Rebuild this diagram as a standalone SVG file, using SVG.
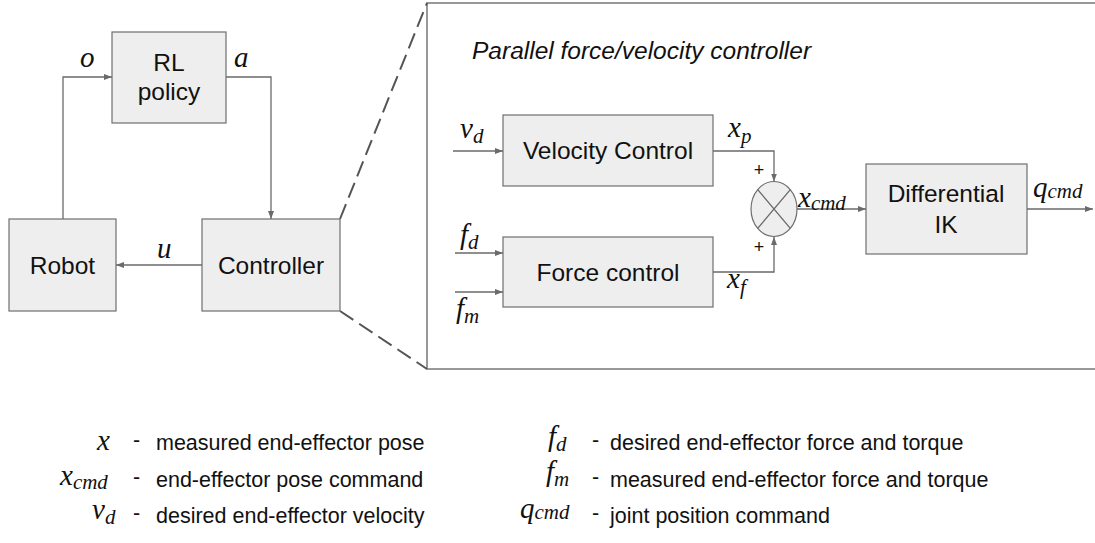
<svg xmlns="http://www.w3.org/2000/svg" width="1095" height="543" viewBox="0 0 1095 543">
  <style>
    .box { fill: #eeeeee; stroke: #6f6f6f; stroke-width: 1.2; }
    .lbl { font-family: "Liberation Sans", Arial, sans-serif; font-size: 24.5px; fill: #111; text-anchor: middle; }
    .title { font-family: "Liberation Sans", Arial, sans-serif; font-size: 24.5px; font-style: italic; fill: #111; }
    .leg { font-family: "Liberation Sans", Arial, sans-serif; font-size: 21.5px; fill: #111; }
    .math { font-family: "Liberation Serif", "Times New Roman", serif; font-size: 29px; font-style: italic; fill: #111; }
    .sub { font-size: 21px; }
    .wire { fill: none; stroke: #6a6a6a; stroke-width: 1.3; }
    .dash { fill: none; stroke: #555; stroke-width: 2; stroke-dasharray: 16 7; }
    .frame { fill: none; stroke: #777; stroke-width: 1.5; }
    .plus { font-family: "Liberation Sans", Arial, sans-serif; font-size: 18px; fill: #111; text-anchor: middle; }
  </style>
  <defs>
    <marker id="arrow" markerUnits="userSpaceOnUse" markerWidth="8" markerHeight="6" refX="8" refY="3" orient="auto">
      <path d="M0,0 L8,3 L0,6 z" fill="#6a6a6a"/>
    </marker>
  </defs>
  <rect width="1095" height="543" fill="#ffffff"/>

  <!-- zoom-out frame of the controller -->
  <g id="detail-frame">
    <rect class="frame" x="427" y="3" width="720" height="366"/>
    <text class="title" x="472" y="59">Parallel force/velocity controller</text>
  </g>

  <g id="connectors">
    <path class="dash" d="M340,219 L427,3"/>
    <path class="dash" d="M340,311 L427,369"/>
    <path class="wire" d="M63,219 V77 H112" marker-end="url(#arrow)"/>
    <path class="wire" d="M226,77 H271 V219" marker-end="url(#arrow)"/>
    <path class="wire" d="M202,265 H116" marker-end="url(#arrow)"/>
    <path class="wire" d="M453,151 H503" marker-end="url(#arrow)"/>
    <path class="wire" d="M455,253 H503" marker-end="url(#arrow)"/>
    <path class="wire" d="M455,292 H503" marker-end="url(#arrow)"/>
    <path class="wire" d="M713,151 H774 V181.5" marker-end="url(#arrow)"/>
    <path class="wire" d="M713,272 H774 V237" marker-end="url(#arrow)"/>
    <path class="wire" d="M797,209 H866" marker-end="url(#arrow)"/>
    <path class="wire" d="M1027,209 H1093" marker-end="url(#arrow)"/>
    <!-- signal names -->
    <text class="math" x="80" y="67">o</text>
    <text class="math" x="234" y="67">a</text>
    <text class="math" x="157" y="258">u</text>
    <text class="math" x="460" y="138">v<tspan class="sub" dy="5">d</tspan></text>
    <text class="math" x="460" y="244">f<tspan class="sub" dy="5">d</tspan></text>
    <text class="math" x="456" y="318">f<tspan class="sub" dy="5">m</tspan></text>
    <text class="math" x="728" y="137">x<tspan class="sub" dy="6">p</tspan></text>
    <text class="math" x="727" y="288">x<tspan class="sub" dy="6">f</tspan></text>
    <text class="math" x="798" y="207">x<tspan class="sub" dy="3">cmd</tspan></text>
    <text class="math" x="1033" y="197">q<tspan class="sub" dy="1">cmd</tspan></text>
    <text class="plus" x="759" y="176">+</text>
    <text class="plus" x="759" y="253">+</text>
  </g>

  <g id="rl-policy">
    <rect class="box" x="112" y="32" width="114" height="91"/>
    <text class="lbl" x="169" y="71">RL</text>
    <text class="lbl" x="169" y="100">policy</text>
  </g>
  <g id="robot">
    <rect class="box" x="9" y="219" width="107" height="92"/>
    <text class="lbl" x="62.5" y="274">Robot</text>
  </g>
  <g id="controller">
    <rect class="box" x="202" y="219" width="138" height="92"/>
    <text class="lbl" x="271" y="274">Controller</text>
  </g>
  <g id="velocity-control">
    <rect class="box" x="503" y="115" width="210" height="71"/>
    <text class="lbl" x="608" y="159">Velocity Control</text>
  </g>
  <g id="force-control">
    <rect class="box" x="503" y="237" width="210" height="70"/>
    <text class="lbl" x="608" y="281">Force control</text>
  </g>
  <g id="summing-junction">
    <ellipse class="box" cx="774" cy="209" rx="23" ry="27.5"/>
    <path class="wire" d="M757.7,189.6 L790.3,228.4 M790.3,189.6 L757.7,228.4"/>
  </g>
  <g id="differential-ik">
    <rect class="box" x="866" y="164" width="161" height="90"/>
    <text class="lbl" x="946" y="202">Differential</text>
    <text class="lbl" x="946" y="233">IK</text>
  </g>

  <g id="legend">
    <text class="math" x="97" y="450">x</text>
    <text class="leg" x="133" y="447">-</text>
    <text class="leg" x="156" y="450">measured end-effector pose</text>

    <text class="math" x="60" y="485">x<tspan class="sub" dy="4">cmd</tspan></text>
    <text class="leg" x="133" y="484">-</text>
    <text class="leg" x="156" y="487">end-effector pose command</text>

    <text class="math" x="92" y="519">v<tspan class="sub" dy="5">d</tspan></text>
    <text class="leg" x="133" y="520">-</text>
    <text class="leg" x="156" y="523">desired end-effector velocity</text>

    <text class="math" x="548" y="446">f<tspan class="sub" dy="5">d</tspan></text>
    <text class="leg" x="592" y="447">-</text>
    <text class="leg" x="610" y="450">desired end-effector force and torque</text>

    <text class="math" x="546" y="481">f<tspan class="sub" dy="5">m</tspan></text>
    <text class="leg" x="592" y="484">-</text>
    <text class="leg" x="610" y="487">measured end-effector force and torque</text>

    <text class="math" x="520" y="518">q<tspan class="sub" dy="1">cmd</tspan></text>
    <text class="leg" x="592" y="520">-</text>
    <text class="leg" x="610" y="523">joint position command</text>
  </g>
</svg>
